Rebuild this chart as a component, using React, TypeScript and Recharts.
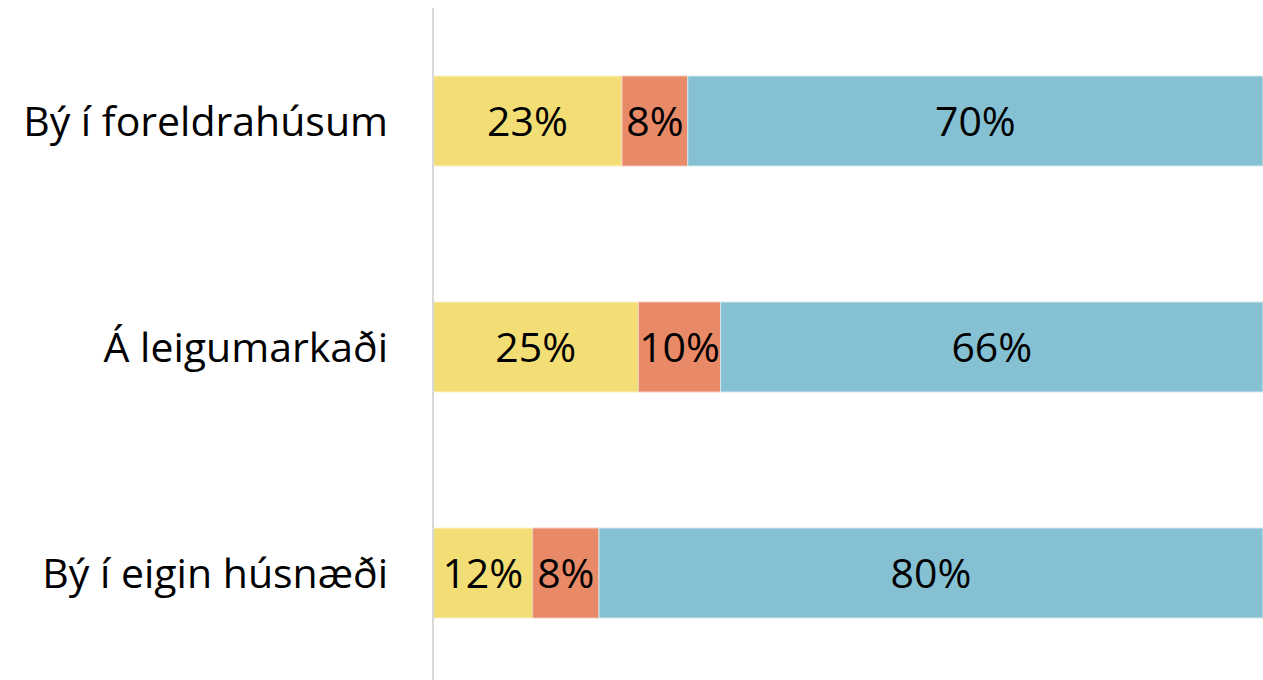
import React from "react";
import { BarChart, Bar, XAxis, YAxis, LabelList } from "recharts";

const categories = ["Bý í foreldrahúsum", "Á leigumarkaði", "Bý í eigin húsnæði"];
const yellowValues = [23, 25, 12];
const orangeValues = [8, 10, 8];
const blueValues = [70, 66, 80];

const data = categories.map((c, i) => ({
  name: c,
  a: yellowValues[i],
  b: orangeValues[i],
  c: blueValues[i],
}));

const FONT = "'Open Sans', sans-serif";
const fmt = (v: any) => `${v}%`;

export default function App() {
  return (
    <div style={{ position: "absolute", left: 0, top: 0, width: 1263, height: 680, overflow: "hidden", fontFamily: FONT }}>
      <BarChart
        width={1263}
        height={686}
        data={data}
        layout="vertical"
        stackOffset="expand"
        barSize={90}
        margin={{ top: 8, right: 0, bottom: 0, left: 0 }}
      >
        <XAxis type="number" hide domain={[0, 1]} />
        <YAxis
          type="category"
          dataKey="name"
          width={433}
          tickLine={false}
          tickSize={0}
          tickMargin={45}
          axisLine={{ stroke: "#d9d9d9", strokeWidth: 2 }}
          tick={{ fill: "#000", fontSize: 41, fontFamily: FONT }}
        />
        <Bar dataKey="a" stackId="s" fill="#F2DE74" stroke="#fbf3d0" strokeWidth={1} isAnimationActive={false}>
          <LabelList dataKey="a" position="center" formatter={fmt} fill="#000" fontSize={41} fontFamily={FONT} />
        </Bar>
        <Bar dataKey="b" stackId="s" fill="#E88968" stroke="#f5cfc0" strokeWidth={1} isAnimationActive={false}>
          <LabelList dataKey="b" position="center" formatter={fmt} fill="#000" fontSize={41} fontFamily={FONT} />
        </Bar>
        <Bar dataKey="c" stackId="s" fill="#85C1D3" stroke="#d4e9ef" strokeWidth={1} isAnimationActive={false}>
          <LabelList dataKey="c" position="center" formatter={fmt} fill="#000" fontSize={41} fontFamily={FONT} />
        </Bar>
      </BarChart>
    </div>
  );
}
